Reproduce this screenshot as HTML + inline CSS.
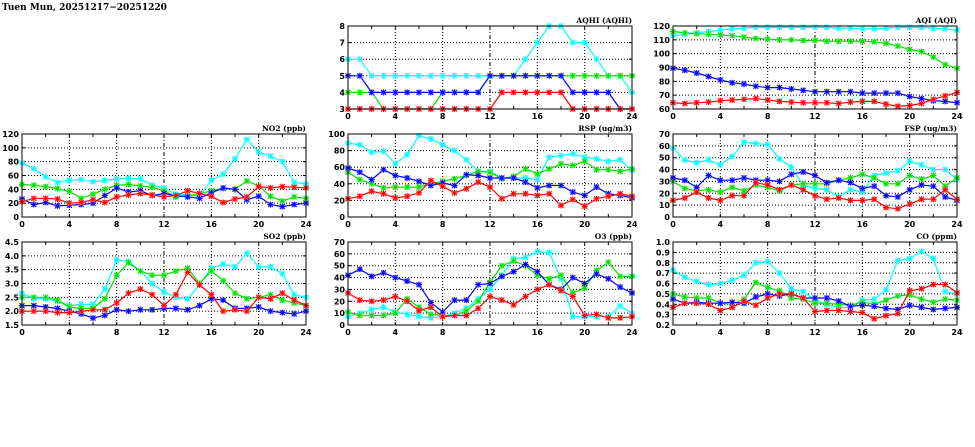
<!DOCTYPE html>
<html><head><meta charset="utf-8"><style>
html,body{margin:0;padding:0;background:#fff;width:975px;height:447px;overflow:hidden}
svg{display:block}
text{font-family:"DejaVu Sans","Liberation Sans",sans-serif;font-weight:bold;fill:#000}
</style></head><body>
<svg id="s" width="975" height="447" xmlns="http://www.w3.org/2000/svg">
<text x="2" y="10" style="font-family:'DejaVu Serif','Liberation Serif',serif;font-size:9px;font-weight:bold">Tuen Mun, 20251217−20251220</text>
</svg>
<script>
const S=document.getElementById('s');
const NS='http://www.w3.org/2000/svg';
function el(t,a,txt){const e=document.createElementNS(NS,t);for(const k in a)e.setAttribute(k,a[k]);if(txt!=null)e.textContent=txt;S.appendChild(e);return e;}
const cols=[22,348,673],rows=[26,134,242],W=284,H=83;
const C={c:'#00ffff',g:'#00e000',b:'#0000ff',r:'#ff0000'};
const L={c:'#b0ffff',g:'#b0ffb0',b:'#b0b0ff',r:'#ffb0b0'};
const panels=[
{col:1,row:0,t:'AQHI (AQHI)',min:3,max:8,step:1,dec:0,d:{
c:[6,6,5,5,5,5,5,5,5,5,5,5,5,5,5,6,7,8,8,7,7,6,5,5,4],
g:[4,4,4,3,3,3,3,3,4,4,4,4,5,5,5,5,5,5,5,5,5,5,5,5,5],
b:[5,5,4,4,4,4,4,4,4,4,4,4,5,5,5,5,5,5,5,4,4,4,4,3,3],
r:[3,3,3,3,3,3,3,3,3,3,3,3,3,4,4,4,4,4,4,3,3,3,3,3,3]}},
{col:2,row:0,t:'AQI (AQI)',min:60,max:120,step:10,dec:0,d:{
c:[113,114,115,116,117,118,118.5,119,119,119,119,119,119,119,118.5,118.5,118,118,118.5,119,119,119,118.5,118,117],
g:[116,115,114.5,114,113.5,113,112,111,110.5,110,110,109.5,109.5,109,109,109,109,108.5,107.5,105.5,103,101.5,97.5,92,89.5],
b:[89.5,88,86,83.5,81,79,78,76.5,75.5,75.5,74.5,73.5,72.5,72.5,72.5,72.5,71.5,71.5,71.5,71.5,69,67.5,66,65.5,64.5],
r:[64.5,64,64.5,65,66,66.5,67,67.5,66.5,65.5,65,64.5,64.5,64.5,64,65,65.5,65.5,63.5,62,62.5,64,67,69.5,72]}},
{col:0,row:1,t:'NO2 (ppb)',min:0,max:120,step:20,dec:0,d:{
c:[78,70,58,50,53,54,51,53,55,56,55,46,42,33,32,30,53,62,84,112,94,88,80,50,48],
g:[47,46,44,41,37,27,33,40,46,47,45,43,38,29,31,33,38,41,40,52,45,30,23,29,27],
b:[26,18,21,16,17,18,20,31,42,36,38,31,34,31,29,27,35,42,40,25,30,18,15,18,20],
r:[22,27,27,26,20,21,25,21,29,32,34,32,29,31,38,34,30,21,26,29,44,42,44,43,42]}},
{col:1,row:1,t:'RSP (ug/m3)',min:0,max:100,step:20,dec:0,d:{
c:[89,87,78,79,64,75,98,94,87,80,69,55,55,47,47,47,45,72,74,76,72,70,67,69,56],
g:[54,45,40,35,36,36,36,40,43,46,50,55,54,46,49,58,52,58,64,62,67,57,57,55,58],
b:[59,54,45,57,50,47,43,38,41,38,51,50,47,47,47,42,35,38,38,30,26,36,28,26,23],
r:[22,25,31,28,23,25,29,44,37,29,34,42,36,22,28,28,26,28,14,21,13,22,25,28,25]}},
{col:2,row:1,t:'FSP (ug/m3)',min:0,max:70,step:10,dec:0,d:{
c:[58,48,46,48,44,51,63,62,61,49,42,27,24,23,17,23,21,35,37,39,47,44,40,40,32],
g:[30,24,22,23,21,25,22,27,25,22,27,28,28,28,31,33,36,33,28,28,35,32,35,26,33],
b:[33,31,25,35,31,31,33,31,31,30,36,38,35,29,31,29,24,26,18,17,23,27,26,17,14],
r:[14,16,21,16,14,18,18,29,27,23,27,23,18,15,16,14,14,15,8,7,11,15,15,23,15]}},
{col:0,row:2,t:'SO2 (ppb)',min:1.5,max:4.5,step:0.5,dec:1,d:{
c:[2.65,2.45,2.45,2.35,2.2,2.25,2.25,2.8,3.85,3.8,3.45,3.0,2.7,2.5,2.45,2.95,3.55,3.7,3.6,4.1,3.6,3.6,3.35,2.6,2.5],
g:[2.5,2.5,2.5,2.4,2.15,2.1,2.1,2.45,3.3,3.75,3.45,3.3,3.3,3.45,3.55,3.0,3.45,3.1,2.65,2.45,2.5,2.6,2.4,2.3,2.2],
b:[2.2,2.2,2.15,2.1,2.0,1.9,1.75,1.85,2.05,2.0,2.05,2.05,2.1,2.1,2.05,2.2,2.45,2.4,2.1,2.1,2.15,2.0,1.95,1.9,2.0],
r:[2.0,2.0,2.0,1.95,1.95,2.0,2.05,2.05,2.3,2.65,2.8,2.6,2.2,2.6,3.4,2.95,2.6,2.0,2.05,2.0,2.5,2.45,2.65,2.4,2.2]}},
{col:1,row:2,t:'O3 (ppb)',min:0,max:70,step:10,dec:0,d:{
c:[7,10,13,15,11,9,7,6,7,10,14,22,30,42,56,57,62,61,39,7,7,7,7,16,10],
g:[11,8,8,8,10,22,15,9,8,8,12,20,36,50,54,50,42,39,42,27,31,46,53,41,41],
b:[42,47,41,44,40,37,34,19,11,21,21,34,35,41,45,51,45,34,30,40,35,43,39,32,27],
r:[27,21,20,21,24,20,12,15,7,8,8,14,24,21,17,24,30,34,29,24,8,9,6,6,7]}},
{col:2,row:2,t:'CO (ppm)',min:0.2,max:1.0,step:0.1,dec:1,d:{
c:[0.73,0.66,0.62,0.59,0.6,0.63,0.68,0.8,0.81,0.7,0.55,0.52,0.44,0.4,0.37,0.37,0.44,0.45,0.54,0.82,0.84,0.91,0.84,0.52,0.5],
g:[0.5,0.47,0.46,0.46,0.41,0.4,0.45,0.61,0.56,0.53,0.46,0.45,0.41,0.41,0.4,0.39,0.42,0.4,0.44,0.48,0.49,0.45,0.42,0.45,0.44],
b:[0.45,0.41,0.42,0.41,0.41,0.42,0.41,0.47,0.5,0.48,0.5,0.46,0.46,0.46,0.43,0.38,0.39,0.38,0.36,0.35,0.39,0.37,0.35,0.36,0.37],
r:[0.37,0.41,0.41,0.4,0.34,0.37,0.43,0.39,0.46,0.5,0.5,0.46,0.33,0.34,0.34,0.33,0.32,0.26,0.29,0.31,0.53,0.55,0.59,0.59,0.51]}}
];
for(const p of panels){
  const x0=cols[p.col],y0=rows[p.row];
  const X=h=>x0+h*W/24, Y=v=>y0+H-(v-p.min)/(p.max-p.min)*H;
  const n=Math.round((p.max-p.min)/p.step);
  for(let i=0;i<=n;i++){
    const v=p.min+i*p.step,y=Y(v);
    if(i>0&&i<n) el('line',{x1:x0,x2:x0+W,y1:y,y2:y,stroke:'#000','stroke-width':1,'stroke-dasharray':'1,2'});
    el('text',{x:x0-3,y:y+3,'text-anchor':'end','font-size':8},v.toFixed(p.dec));
    el('line',{x1:x0,x2:x0+3,y1:y,y2:y,stroke:'#000'});
    el('line',{x1:x0+W-3,x2:x0+W,y1:y,y2:y,stroke:'#000'});
  }
  for(let h=0;h<=24;h+=4){
    const x=X(h);
    if(h>0&&h<24) el('line',{x1:x,x2:x,y1:y0,y2:y0+H,stroke:'#000','stroke-width':1,'stroke-dasharray':h==12?'4,2,1,2':'1,2'});
    el('text',{x:x,y:y0+H+10,'text-anchor':'middle','font-size':8},h);
  }
  for(let h=0;h<=24;h+=2){const x=X(h);el('line',{x1:x,x2:x,y1:y0,y2:y0+3,stroke:'#000'});el('line',{x1:x,x2:x,y1:y0+H-3,y2:y0+H,stroke:'#000'});}
  el('text',{x:x0+W,y:y0-3,'text-anchor':'end','font-size':7.5,style:"font-family:'DejaVu Serif','Liberation Serif',serif"},p.t);
  for(const k of ['c','g','b','r']){
    const pts=p.d[k].map((v,i)=>X(i).toFixed(1)+','+Y(v).toFixed(1)).join(' ');
    el('polyline',{points:pts,fill:'none',stroke:C[k],'stroke-width':1.2});
    p.d[k].forEach((v,i)=>{const x=X(i),y=Y(v);
      el('rect',{x:x-2.5,y:y-2.5,width:5,height:5,fill:L[k]});
      el('path',{d:`M${x-2.5},${y-2.5}L${x+2.5},${y+2.5}M${x-2.5},${y+2.5}L${x+2.5},${y-2.5}M${x-3},${y}L${x+3},${y}M${x},${y-3}L${x},${y+3}`,stroke:C[k],'stroke-width':1});
    });
  }
  el('rect',{x:x0,y:y0,width:W,height:H,fill:'none',stroke:'#000','stroke-width':1});
}
</script>
</body></html>
